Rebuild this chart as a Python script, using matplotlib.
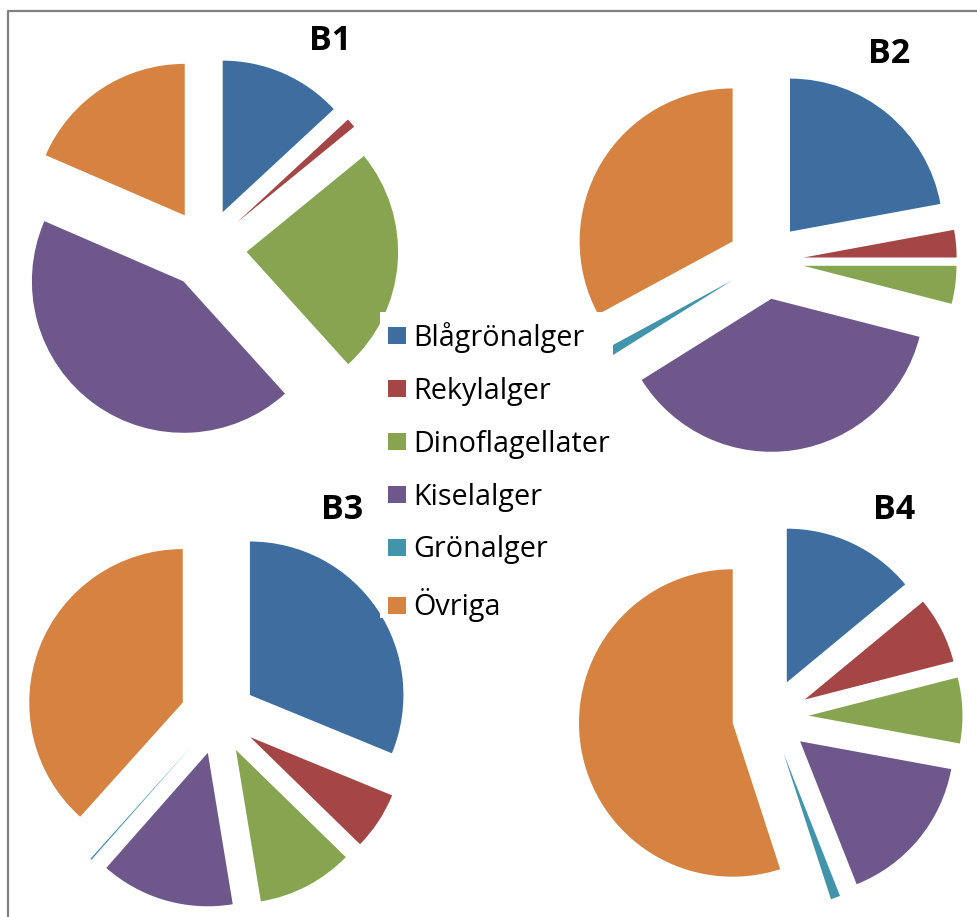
import matplotlib
matplotlib.use("Agg")
import matplotlib.pyplot as plt
from matplotlib.patches import Patch, Rectangle
from matplotlib.lines import Line2D

# Canvas size in pixels
W, H = 977, 917
DPI = 100

# Algal groups and their colours
groups = ["Blågrönalger", "Rekylalger", "Dinoflagellater", "Kiselalger", "Grönalger", "Övriga"]
colors = ["#3D6E9F", "#A44646", "#87A450", "#6E578B", "#4294AA", "#D68240"]

# Share of each group (%) per station
stations = ["B1", "B2", "B3", "B4"]
b1 = [13.1, 1.0, 24.2, 43.2, 0.0, 18.5]
b2 = [22.1, 2.9, 4.0, 37.1, 1.0, 32.9]
b3 = [31.2, 6.1, 10.1, 14.1, 0.15, 38.35]
b4 = [14.0, 7.0, 6.9, 16.1, 1.0, 55.0]
shares = [b1, b2, b3, b4]

# Placement of each pie: centre (px, from top-left), radius (px), explode fraction,
# and title anchor (centre x, baseline y) in px
layout = [
    dict(c=(206.7, 248.8), r=151.5, ex=0.264, t=(330, 50.5)),
    dict(c=(765.5, 261.0), r=153.0, ex=0.250, t=(889, 62.7)),
    dict(c=(218.3, 716.2), r=153.5, ex=0.248, t=(342, 519.0)),
    dict(c=(770.5, 717.0), r=153.7, ex=0.249, t=(894, 519.0)),
]

FONT = ["Open Sans", "DejaVu Sans"]

fig = plt.figure(figsize=(W / DPI, H / DPI), dpi=DPI)
fig.patch.set_facecolor("white")

half = 220  # half-size of each pie's axes box, px
for name, vals, lay in zip(stations, shares, layout):
    cx, cy = lay["c"]
    ax = fig.add_axes([(cx - half) / W, (H - cy - half) / H, 2 * half / W, 2 * half / H])
    ax.pie(vals, colors=colors, startangle=90, counterclock=False,
           explode=[lay["ex"]] * len(vals), radius=1.0,
           wedgeprops=dict(linewidth=0, edgecolor="none"))
    lim = half / lay["r"]
    ax.set_xlim(-lim, lim)
    ax.set_ylim(-lim, lim)
    ax.set_aspect("equal")
    ax.axis("off")
    tx, ty = lay["t"]
    fig.text(tx / W, 1 - ty / H, name, ha="center", va="baseline",
             fontsize=24.5, fontweight="bold", family=FONT, color="black")

# White legend area sitting on top of the pies
fig.add_artist(Rectangle((380 / W, 1 - 618 / H), (613 - 380) / W, (618 - 312) / H,
                         transform=fig.transFigure, facecolor="white",
                         edgecolor="none", zorder=3))

handles = [Patch(facecolor=c, edgecolor="none", label=g) for g, c in zip(groups, colors)]
leg = fig.legend(handles=handles, loc="upper left",
                 bbox_to_anchor=(388 / W, 1 - 322 / H),
                 frameon=False, borderpad=0, borderaxespad=0,
                 handlelength=0.61, handleheight=0.54, handletextpad=0.26,
                 labelspacing=0.83,
                 prop=dict(family=FONT, size=20.7))
leg.set_zorder(5)

# Chart frame: left and top edges
fig.add_artist(Line2D([8 / W, 8 / W, 1.0], [0.0, 1 - 11 / H, 1 - 11 / H],
                      transform=fig.transFigure, color="#808080", linewidth=1.6))

fig.savefig("out.png", dpi=DPI, facecolor="white")
